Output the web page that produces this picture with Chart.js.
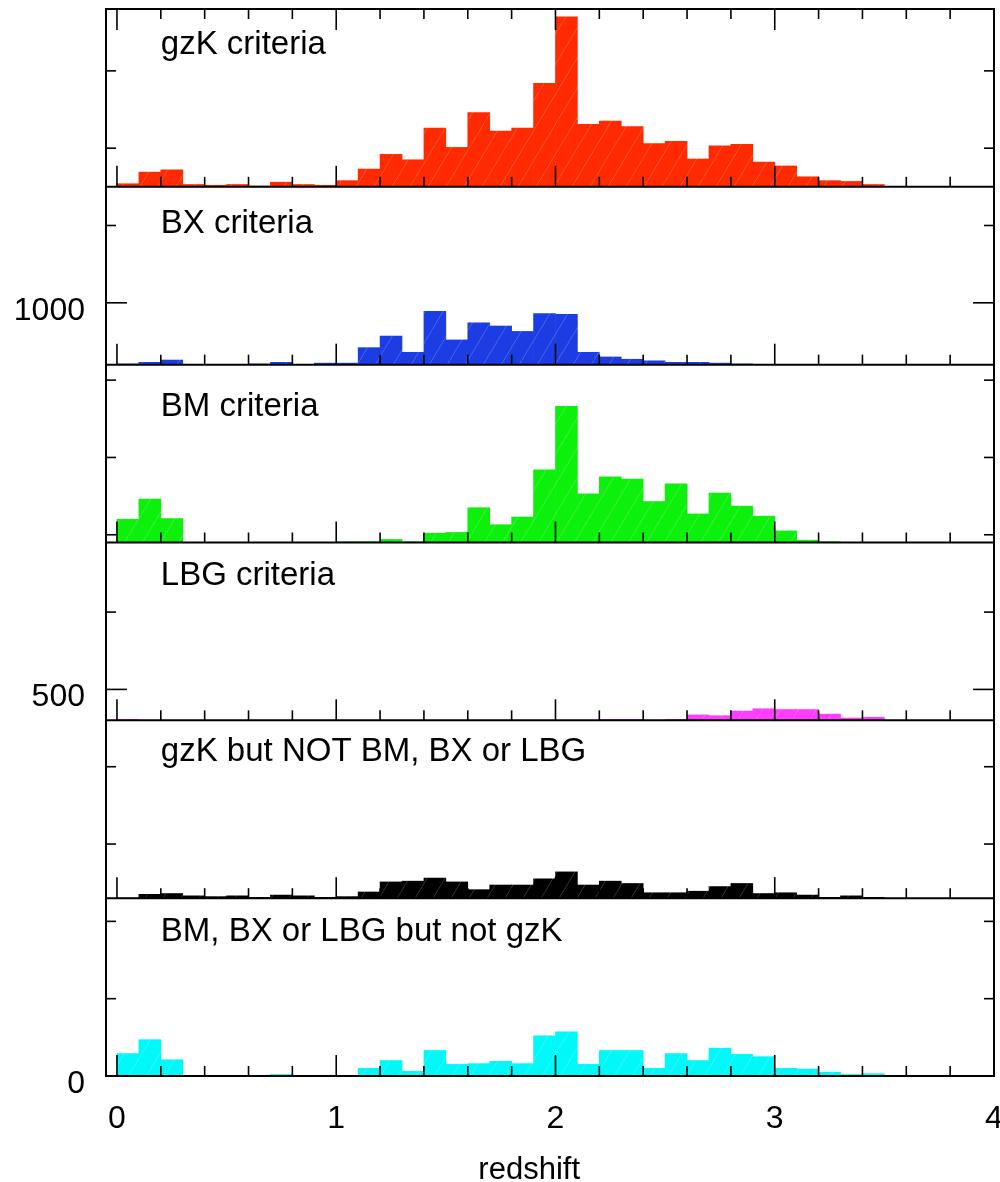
<!DOCTYPE html>
<html>
<head>
<meta charset="utf-8">
<script src="https://cdn.jsdelivr.net/npm/chart.js@4.4.1/dist/chart.umd.min.js"></script>
<style>
  html, body { margin: 0; padding: 0; background: #fff; }
  #wrap { width: 1000px; height: 1182px; }
</style>
</head>
<body>
<div id="wrap"><canvas id="zChart" width="1000" height="1182"></canvas></div>
<script>
// redshift bin centres (bins are 0.1 wide)
const binCenters = [0.05, 0.15, 0.25, 0.35, 0.45, 0.55, 0.65, 0.75, 0.85, 0.95,
                    1.05, 1.15, 1.25, 1.35, 1.45, 1.55, 1.65, 1.75, 1.85, 1.95,
                    2.05, 2.15, 2.25, 2.35, 2.45, 2.55, 2.65, 2.75, 2.85, 2.95,
                    3.05, 3.15, 3.25, 3.35, 3.45];

// counts per bin, one panel each (top to bottom)
const gzkCounts   = [4, 19, 22, 3, 2, 3, 1, 6, 3, 2, 8, 23, 42, 35, 76, 51, 96, 72, 76, 134,
                     220, 81, 85, 78, 56, 59, 36, 53, 55, 32, 27, 13, 8, 7, 3];
const bxCounts    = [1, 3, 6, 0, 0, 0, 1, 3, 0, 2, 2, 22, 37, 16, 69, 32, 54, 50, 43, 66,
                     65, 16, 10, 7, 5, 3, 3, 2, 1, 0, 0, 0, 0, 0, 0];
const bmCounts    = [30, 56, 31, 0, 0, 0, 0, 0, 0, 0, 1, 1, 4, 1, 12, 13, 45, 23, 33, 94,
                     176, 63, 85, 82, 53, 76, 37, 64, 47, 34, 15, 3, 1, 0, 0];
const lbgCounts   = [1, 0, 0, 0, 0, 0, 0, 0, 0, 0, 0, 0, 0, 0, 0, 0, 0, 0, 0, 0,
                     0, 0, 1, 1, 0, 1, 7, 6, 12, 15, 14, 14, 8, 3, 4];
const gzkOnlyCounts = [0, 5, 6, 3, 2, 3, 1, 4, 3, 1, 2, 8, 21, 22, 26, 21, 11, 17, 17, 25,
                     34, 17, 22, 19, 7, 7, 9, 15, 19, 6, 7, 4, 1, 3, 1];
const notGzkCounts = [29, 47, 21, 0, 0, 0, 1, 2, 0, 1, 0, 10, 20, 6, 33, 15, 16, 19, 16, 52,
                     57, 15, 33, 33, 10, 29, 20, 36, 28, 25, 10, 9, 5, 2, 3];

const panelNames = ['gzK criteria', 'BX criteria', 'BM criteria', 'LBG criteria',
                    'gzK but NOT BM, BX or LBG', 'BM, BX or LBG but not gzK'];
const panelCounts = [gzkCounts, bxCounts, bmCounts, lbgCounts, gzkOnlyCounts, notGzkCounts];
// each panel is offset on the shared count axis
const panelBases = [1150, 920, 690, 460, 230, 0];
const panelHeight = 230;

// axis ticks
const xLabelTicks = [0, 1, 2, 3, 4];
const xMarkTicks = [0, 0.2, 0.4, 0.6, 0.8, 1, 1.2, 1.4, 1.6, 1.8, 2, 2.2, 2.4, 2.6, 2.8,
                    3, 3.2, 3.4, 3.6, 3.8];
const yTickValues = [0, 100, 200, 300, 400, 500, 600, 700, 800, 900, 1000, 1100, 1200, 1300];
const yLabelled = [0, 500, 1000];
const xTitle = 'redshift';

// styling
const fillColors = ['#ff2a00', '#1d3de4', '#0cf00c', '#ff3cff', '#000000', '#00f8f8'];
const labelDy = [33, 34, 39, 30, 29, 31];   // px from panel top to text centre
const FONT = '"Liberation Sans", Arial, Helvetica, sans-serif';

function hatch(color) {
    const c = document.createElement('canvas');
    c.width = 18; c.height = 30;
    const g = c.getContext('2d');
    g.fillStyle = color;
    g.fillRect(0, 0, 18, 30);
    g.strokeStyle = 'rgba(255,255,255,0.2)';
    g.lineWidth = 1;
    g.beginPath();
    g.moveTo(-1, 31.7);
    g.lineTo(19, -1.7);
    g.stroke();
    return g.createPattern(c, 'repeat');
}

const datasets = panelCounts.map((counts, p) => ({
    label: panelNames[p],
    data: counts.map((n, i) => ({ x: binCenters[i], y: [panelBases[p], panelBases[p] + n] })),
    backgroundColor: hatch(fillColors[p]),
    borderWidth: 0
}));

// panel frames, inward ticks, panel titles and the axis title
const panelDecor = {
    id: 'panelDecor',
    afterDatasetsDraw(chart) {
        const { ctx, chartArea: a, scales: { x, y } } = chart;
        const seg = (x1, y1, x2, y2) => { ctx.beginPath(); ctx.moveTo(x1, y1); ctx.lineTo(x2, y2); ctx.stroke(); };
        ctx.save();
        ctx.strokeStyle = '#000';

        ctx.lineWidth = 1.6;
        yTickValues.forEach(v => {
            if (v === 0) return;
            const py = y.getPixelForValue(v);
            const len = yLabelled.includes(v) ? 21 : 10;
            seg(a.left, py, a.left + len, py);
            seg(a.right, py, a.right - len, py);
        });
        xMarkTicks.forEach(v => {
            const px = x.getPixelForValue(v);
            const len = Number.isInteger(v) ? 21 : 10;
            seg(px, a.top, px, a.top + len);
            panelBases.forEach(b => {
                const py = y.getPixelForValue(b);
                seg(px, py, px, py - len);
            });
        });

        ctx.lineWidth = 2;
        panelBases.forEach(b => {
            if (b === 0) return;
            const py = y.getPixelForValue(b);
            seg(a.left, py, a.right, py);
        });
        ctx.strokeRect(a.left, a.top, a.right - a.left, a.bottom - a.top);

        ctx.fillStyle = '#000';
        ctx.font = '33px ' + FONT;
        ctx.textAlign = 'left';
        ctx.textBaseline = 'alphabetic';
        panelNames.forEach((name, p) => {
            const top = y.getPixelForValue(panelBases[p] + panelHeight);
            ctx.fillText(name, x.getPixelForValue(0.2), top + labelDy[p] + 12);
        });

        ctx.font = '31px ' + FONT;
        ctx.textAlign = 'center';
        ctx.fillText(xTitle, x.getPixelForValue(1.88), a.bottom + 103);
        ctx.restore();
    }
};

new Chart(document.getElementById('zChart').getContext('2d'), {
    type: 'bar',
    data: { datasets: datasets },
    plugins: [panelDecor],
    options: {
        responsive: false,
        animation: false,
        layout: { padding: { top: 9, right: 6, left: 0, bottom: 0 } },
        plugins: {
            legend: { display: false },
            tooltip: { enabled: false }
        },
        datasets: {
            bar: { grouped: false, barPercentage: 1, categoryPercentage: 1 }
        },
        scales: {
            x: {
                type: 'linear',
                min: -0.05,
                max: 4,
                offset: false,
                grid: { display: false, drawTicks: false },
                border: { display: false },
                afterBuildTicks: s => { s.ticks = xLabelTicks.map(v => ({ value: v })); },
                afterFit: s => { s.height = 106; s.paddingLeft = 0; s.paddingRight = 0; },
                ticks: {
                    color: '#000',
                    font: { family: FONT, size: 32 },
                    padding: 24,
                    autoSkip: false,
                    maxRotation: 0,
                    callback: v => String(v)
                }
            },
            y: {
                min: 0,
                max: 1380,
                grid: { display: false, drawTicks: false },
                border: { display: false },
                afterBuildTicks: s => { s.ticks = yTickValues.map(v => ({ value: v })); },
                afterFit: s => { s.width = 106; s.paddingTop = 0; s.paddingBottom = 0; },
                ticks: {
                    color: '#000',
                    font: { family: FONT, size: 32 },
                    padding: 21,
                    labelOffset: 8,
                    callback: v => yLabelled.includes(v) ? String(v) : ''
                }
            }
        }
    }
});
</script>
</body>
</html>
